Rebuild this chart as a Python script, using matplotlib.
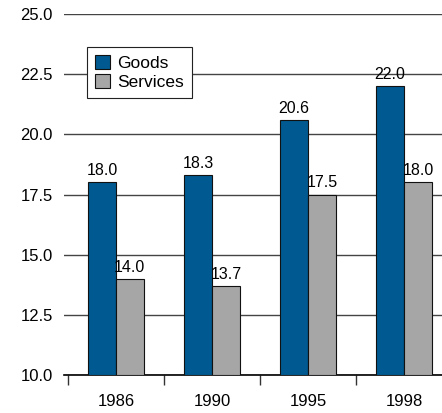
import matplotlib.pyplot as plt
import numpy as np

years = ['1986', '1990', '1995', '1998']
goods = [18.0, 18.3, 20.6, 22.0]
services = [14.0, 13.7, 17.5, 18.0]

plt.rcParams['font.family'] = ['Liberation Sans', 'DejaVu Sans']

fig = plt.figure(figsize=(4.42, 4.13), dpi=100)
ax = fig.add_axes([0.145, 0.092, 0.855, 0.874])

x = np.arange(len(years))
w = 0.29
ax.bar(x - w / 2, [g - 10 for g in goods], w, bottom=10, color='#005a91',
       edgecolor='#111111', linewidth=0.8, label='Goods', zorder=3)
ax.bar(x + w / 2, [s - 10 for s in services], w, bottom=10, color='#a6a6a6',
       edgecolor='#111111', linewidth=0.8, label='Services', zorder=3)

for xi, v in zip(x, goods):
    ax.annotate('%.1f' % v, (xi - w / 2, v), xytext=(0, 3), textcoords='offset points',
                ha='center', va='bottom', fontsize=11.5)
for xi, v in zip(x, services):
    ax.annotate('%.1f' % v, (xi + w / 2, v), xytext=(0, 3), textcoords='offset points',
                ha='center', va='bottom', fontsize=11.5)

ax.set_ylim(10, 25)
ax.set_xlim(-0.54, 3.396)
ticks = [10, 12.5, 15, 17.5, 20, 22.5, 25]
ax.set_yticks(ticks)
ax.set_yticklabels(['%.1f' % t for t in ticks], fontsize=12)
ax.tick_params(axis='y', length=0, pad=8)
ax.yaxis.grid(True, color='#444444', linewidth=1, zorder=0)
ax.set_axisbelow(True)

ax.set_xticks(x)
ax.set_xticklabels(years, fontsize=12)
ax.tick_params(axis='x', which='major', length=0, pad=14)
ax.set_xticks(x - 0.5, minor=True)
ax.tick_params(axis='x', which='minor', length=7, width=1, color='#333333', direction='out')

for s in ['top', 'right', 'left']:
    ax.spines[s].set_visible(False)
ax.spines['bottom'].set_linewidth(1.2)

leg = ax.legend(loc='upper left', bbox_to_anchor=(0.061, 0.909), fontsize=12.5,
                frameon=True, fancybox=False, edgecolor='#222222',
                handlelength=0.85, handleheight=0.85, handletextpad=0.45,
                borderpad=0.45, labelspacing=0.2, borderaxespad=0)
leg.get_frame().set_linewidth(0.8)
leg.get_frame().set_alpha(1)

fig.savefig('out.png', dpi=100)
